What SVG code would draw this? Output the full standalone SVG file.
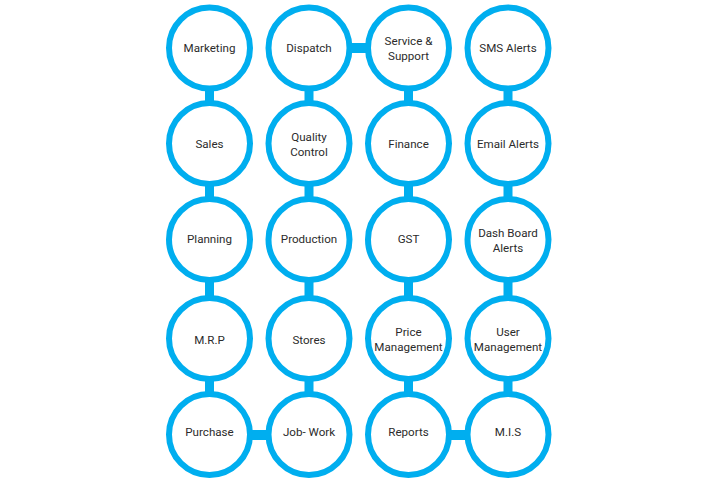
<svg xmlns="http://www.w3.org/2000/svg" width="714" height="486" viewBox="0 0 714 486">
<style>
.c{fill:#fff;stroke:#00AEEF;stroke-width:6}
.k{fill:#00AEEF}
text{font-family:Roboto,"Liberation Sans",sans-serif;font-size:11.6px;fill:#2b2b2b;text-anchor:middle;dominant-baseline:central}
</style>
<rect width="714" height="486" fill="#fff"/>
<g id="connectors">
<rect class="k" x="205" y="80" width="9" height="30"/>
<rect class="k" x="205" y="176" width="9" height="30"/>
<rect class="k" x="205" y="272" width="9" height="30"/>
<rect class="k" x="205" y="370" width="9" height="30"/>
<rect class="k" x="304.5" y="80" width="9" height="30"/>
<rect class="k" x="304.5" y="176" width="9" height="30"/>
<rect class="k" x="304.5" y="272" width="9" height="30"/>
<rect class="k" x="304.5" y="370" width="9" height="30"/>
<rect class="k" x="404" y="80" width="9" height="30"/>
<rect class="k" x="404" y="176" width="9" height="30"/>
<rect class="k" x="404" y="272" width="9" height="30"/>
<rect class="k" x="404" y="370" width="9" height="30"/>
<rect class="k" x="503.5" y="80" width="9" height="30"/>
<rect class="k" x="503.5" y="176" width="9" height="30"/>
<rect class="k" x="503.5" y="272" width="9" height="30"/>
<rect class="k" x="503.5" y="370" width="9" height="30"/>
<rect class="k" x="345" y="43" width="25" height="10"/>
<rect class="k" x="245" y="430" width="25" height="10"/>
<rect class="k" x="444" y="430" width="25" height="10"/>
</g>
<g id="marketing"><circle class="c" cx="209.5" cy="48" r="40.5"/><text x="209.5" y="48">Marketing</text></g>
<g id="dispatch"><circle class="c" cx="309" cy="48" r="40.5"/><text x="309" y="48">Dispatch</text></g>
<g id="service"><circle class="c" cx="408.5" cy="48" r="40.5"/><text x="408.5" y="41">Service &amp;</text><text x="408.5" y="56">Support</text></g>
<g id="sms"><circle class="c" cx="508" cy="48" r="40.5"/><text x="508" y="48">SMS Alerts</text></g>
<g id="sales"><circle class="c" cx="209.5" cy="143.5" r="40.5"/><text x="209.5" y="143.5">Sales</text></g>
<g id="quality"><circle class="c" cx="309" cy="143.5" r="40.5"/><text x="309" y="137">Quality</text><text x="309" y="152">Control</text></g>
<g id="finance"><circle class="c" cx="408.5" cy="143.5" r="40.5"/><text x="408.5" y="143.5">Finance</text></g>
<g id="email"><circle class="c" cx="508" cy="143.5" r="40.5"/><text x="508" y="143.5">Email Alerts</text></g>
<g id="planning"><circle class="c" cx="209.5" cy="239.5" r="40.5"/><text x="209.5" y="239">Planning</text></g>
<g id="production"><circle class="c" cx="309" cy="239.5" r="40.5"/><text x="309" y="239">Production</text></g>
<g id="gst"><circle class="c" cx="408.5" cy="239.5" r="40.5"/><text x="408.5" y="239">GST</text></g>
<g id="dashboard"><circle class="c" cx="508" cy="239.5" r="40.5"/><text x="508" y="233">Dash Board</text><text x="508" y="248">Alerts</text></g>
<g id="mrp"><circle class="c" cx="209.5" cy="338.5" r="40.5"/><text x="209.5" y="339.5">M.R.P</text></g>
<g id="stores"><circle class="c" cx="309" cy="338.5" r="40.5"/><text x="309" y="339.5">Stores</text></g>
<g id="price"><circle class="c" cx="408.5" cy="338.5" r="40.5"/><text x="408.5" y="331.5">Price</text><text x="408.5" y="346.5">Management</text></g>
<g id="user"><circle class="c" cx="508" cy="338.5" r="40.5"/><text x="508" y="331.5">User</text><text x="508" y="346.5">Management</text></g>
<g id="purchase"><circle class="c" cx="209.5" cy="434.5" r="40.5"/><text x="209.5" y="431.5">Purchase</text></g>
<g id="jobwork"><circle class="c" cx="309" cy="434.5" r="40.5"/><text x="309" y="431.5">Job- Work</text></g>
<g id="reports"><circle class="c" cx="408.5" cy="434.5" r="40.5"/><text x="408.5" y="431.5">Reports</text></g>
<g id="mis"><circle class="c" cx="508" cy="434.5" r="40.5"/><text x="508" y="431.5">M.I.S</text></g>
</svg>
